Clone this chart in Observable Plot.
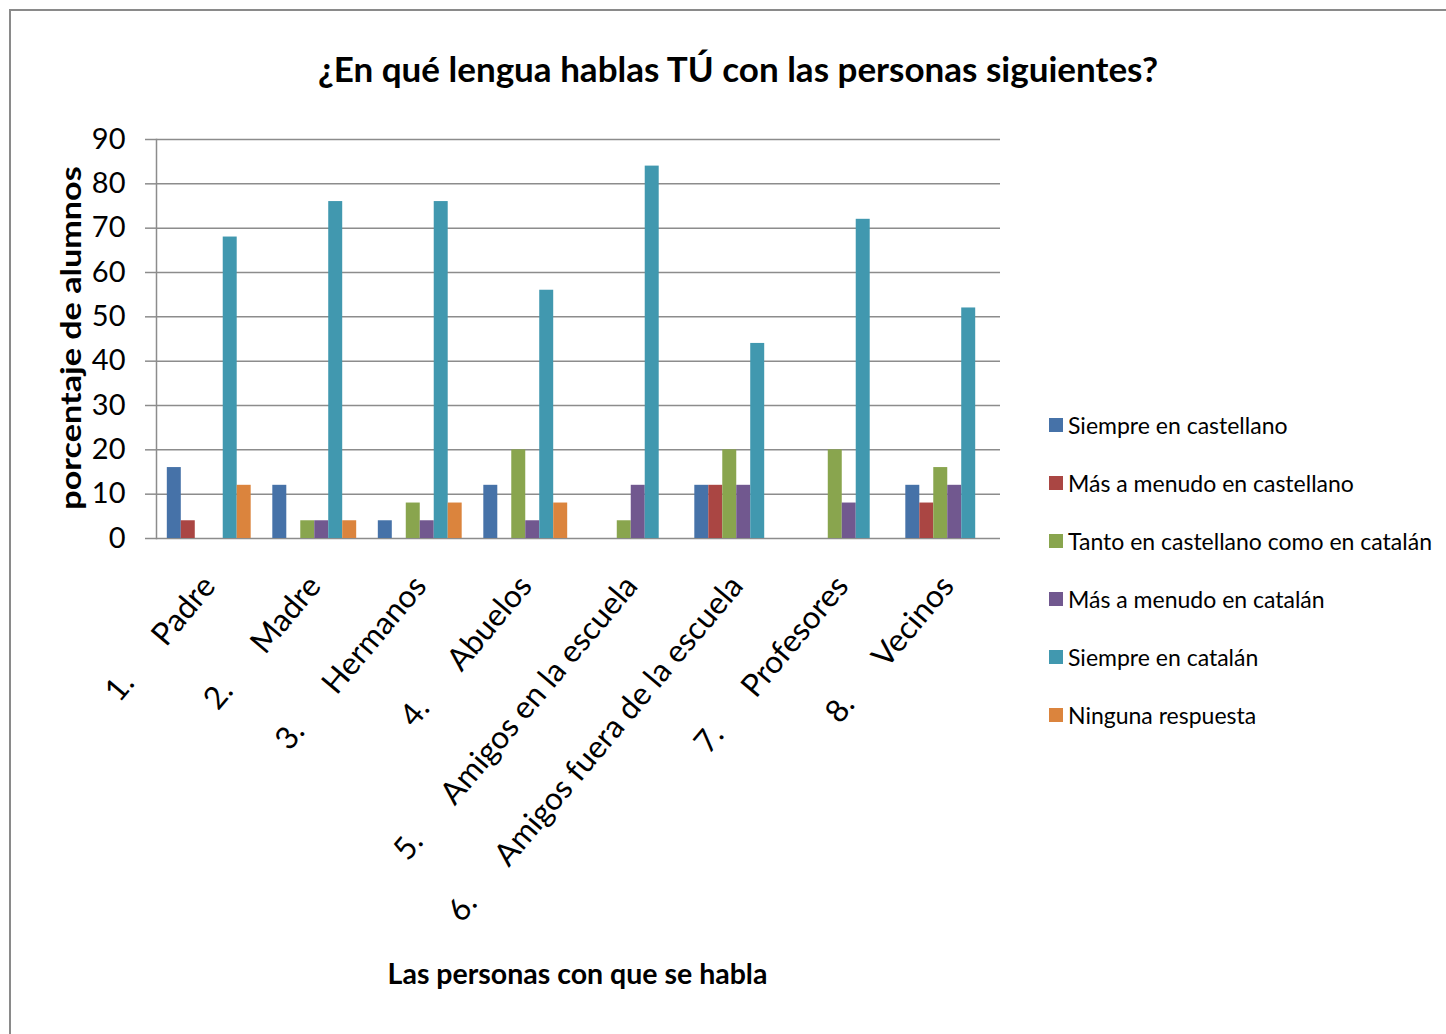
<!DOCTYPE html>
<html>
<head>
<meta charset="utf-8">
<script src="https://cdn.jsdelivr.net/npm/d3@7"></script>
<script src="https://cdn.jsdelivr.net/npm/@observablehq/plot@0.6"></script>
<style>
  html, body { margin: 0; padding: 0; background: #fff; }
  body { position: relative; width: 1446px; height: 1034px; overflow: hidden; font-family: Lato, "DejaVu Sans", sans-serif; color: #000; }
  #frame { position: absolute; left: 9px; top: 9px; width: 1460px; height: 1060px; border: 2px solid #8a8a8a; box-sizing: border-box; }
  #title { position: absolute; left: 0; width: 1476px; top: 47px; text-align: center; font-size: 35px; font-weight: 700; white-space: nowrap; }
  .layer { position: absolute; left: 0; top: 100px; }
  #xtitle { position: absolute; left: 0; width: 1155px; top: 956px; text-align: center; font-size: 28.5px; font-weight: 700; white-space: nowrap; }
  #legend { position: absolute; left: 1049px; top: 396px; }
  .item { display: flex; align-items: center; height: 58px; font-size: 23px; white-space: nowrap; }
  .sw { width: 14px; height: 14px; margin-right: 5px; flex: none; }
</style>
</head>
<body>
<div id="frame"></div>
<div id="title"></div>
<div id="back" class="layer"></div>
<div id="front" class="layer"></div>
<div id="xtitle"></div>
<div id="legend"></div>
<script>
// ---- data ----
const titleText = "¿En qué lengua hablas TÚ con las personas siguientes?";
const yTitle = "porcentaje de alumnos";
const xTitle = "Las personas con que se habla";
const categories = ["Padre", "Madre", "Hermanos", "Abuelos", "Amigos en la escuela", "Amigos fuera de la escuela", "Profesores", "Vecinos"];
const categoryNumbers = ["1.", "2.", "3.", "4.", "5.", "6.", "7.", "8."];
const series = ["Siempre en castellano", "Más a menudo en castellano", "Tanto en castellano como en catalán", "Más a menudo en catalán", "Siempre en catalán", "Ninguna respuesta"];
const colors = ["#4672A8", "#AA4643", "#89A54E", "#71588F", "#4198AF", "#DB843D"];
const siempreCastellano = [16, 12, 4, 12, 0, 12, 0, 12];
const masCastellano = [4, 0, 0, 0, 0, 12, 0, 8];
const tantoUnoComoOtro = [0, 4, 8, 20, 4, 20, 20, 16];
const masCatalan = [0, 4, 4, 4, 12, 12, 8, 12];
const siempreCatalan = [68, 76, 76, 56, 84, 44, 72, 52];
const ningunaRespuesta = [12, 4, 8, 8, 0, 0, 0, 0];
const yTicks = [0, 10, 20, 30, 40, 50, 60, 70, 80, 90];

const seriesValues = [siempreCastellano, masCastellano, tantoUnoComoOtro, masCatalan, siempreCatalan, ningunaRespuesta];
const table = [];
categories.forEach((c, i) => series.forEach((s, j) => table.push({cat: c, series: s, value: seriesValues[j][i]})));
const labelOf = new Map(categories.map((c, i) => [c, categoryNumbers[i] + "\u2003\u2003" + c]));

document.getElementById("title").textContent = titleText;
document.getElementById("xtitle").textContent = xTitle;

const gridColor = "#8c8c8c";
const common = {
  width: 1446,
  height: 900,
  marginLeft: 156,
  marginRight: 446,
  marginTop: 39,
  marginBottom: 462,
  style: {fontFamily: "Lato, sans-serif", fontSize: "24px", color: "#000", background: "transparent", overflow: "visible"}
};

// background layer: grid + y axis
const back = Plot.plot({
  ...common,
  y: {domain: [0, 90], label: null},
  marks: [
    Plot.gridY(yTicks, {stroke: gridColor, strokeOpacity: 1, strokeWidth: 1.5}),
    Plot.axisY(yTicks, {tickSize: 11, tickPadding: 20, stroke: gridColor, strokeWidth: 1.5, fontSize: 29, label: null}),
    Plot.frame({anchor: "left", stroke: gridColor, strokeWidth: 1.5})
  ]
});
document.getElementById("back").appendChild(back);

// front layer: grouped bars + category axis
const front = Plot.plot({
  ...common,
  fx: {domain: categories, paddingInner: 0.205, paddingOuter: 0.1025, round: false, label: null},
  x: {domain: series, padding: 0, round: false, axis: null},
  y: {domain: [0, 90], axis: null},
  color: {domain: series, range: colors},
  marks: [
    Plot.barY(table, {fx: "cat", x: "series", y: "value", fill: "series"}),
    Plot.axisFx({anchor: "bottom", tickRotate: -50, tickSize: 0, tickPadding: 42, tickFormat: d => labelOf.get(d), fontSize: 31.5, label: null})
  ]
});
document.getElementById("front").appendChild(front);

// y-axis title
const yt = document.createElement("div");
yt.textContent = yTitle;
Object.assign(yt.style, {position: "absolute", left: "70px", top: "338px", transform: "translate(-50%,-50%) rotate(-90deg) scale(1.22, 1)", fontSize: "28px", fontWeight: "700", whiteSpace: "nowrap"});
document.body.appendChild(yt);

// legend
const lg = document.getElementById("legend");
series.forEach((s, i) => {
  const it = document.createElement("div");
  it.className = "item";
  const sw = document.createElement("span");
  sw.className = "sw";
  sw.style.background = colors[i];
  const tx = document.createElement("span");
  tx.textContent = s;
  it.appendChild(sw); it.appendChild(tx);
  lg.appendChild(it);
});
</script>
</body>
</html>
